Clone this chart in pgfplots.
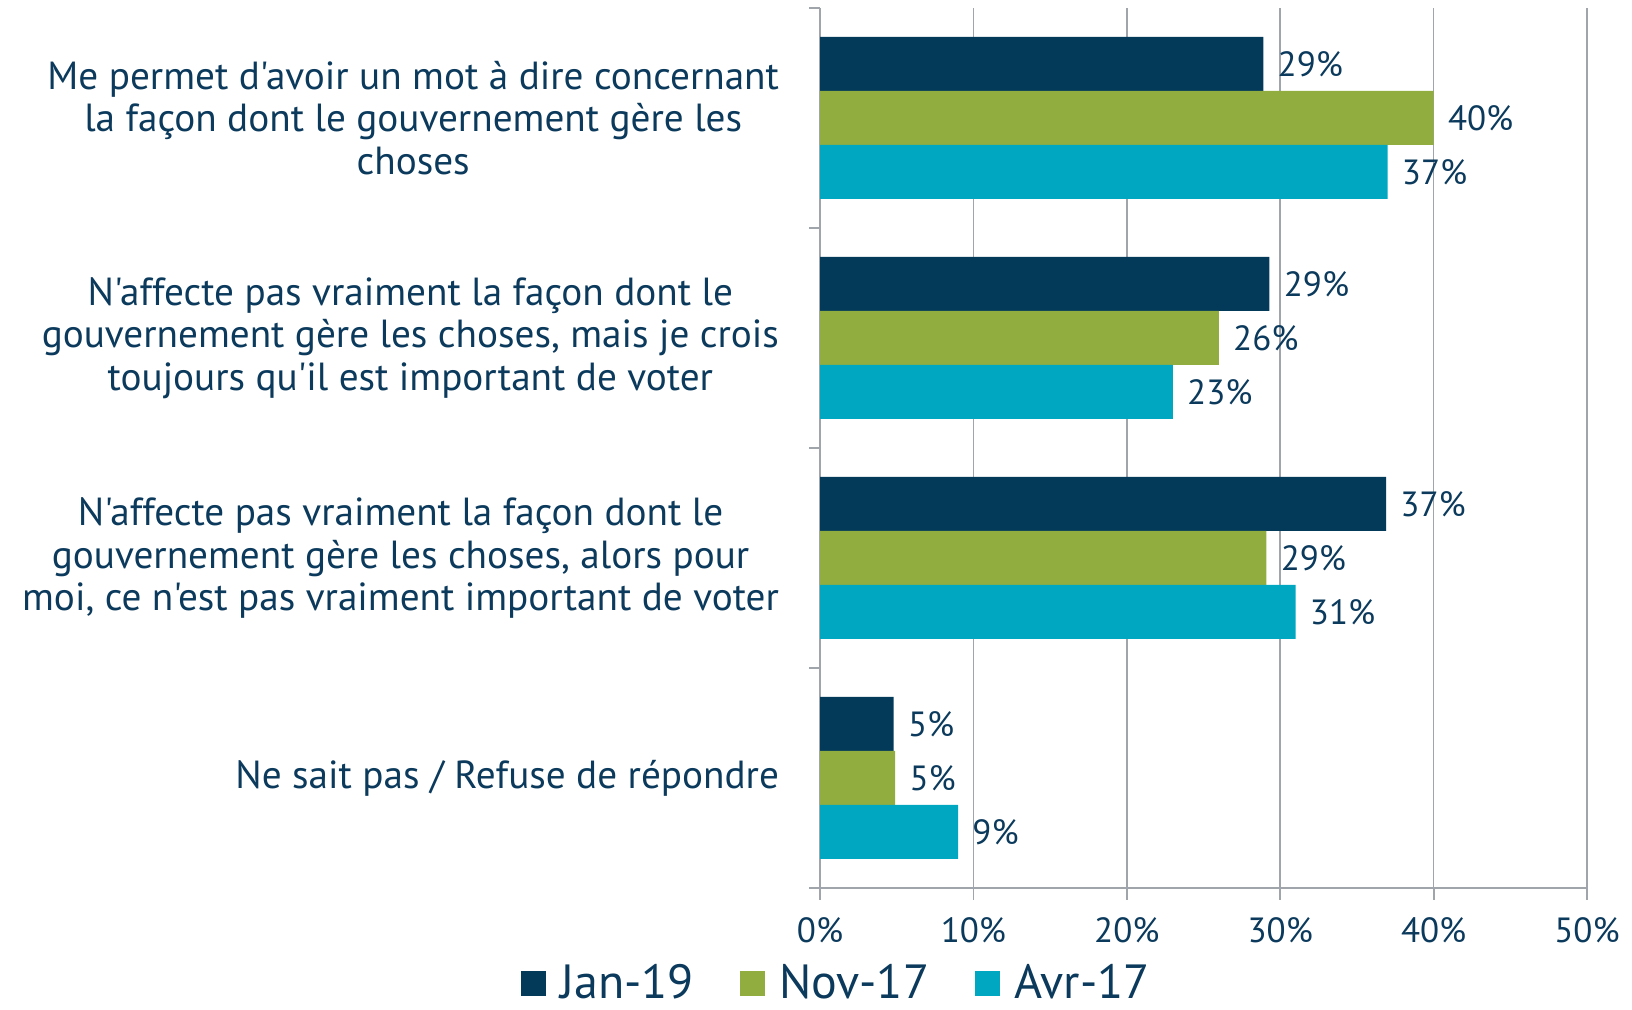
\documentclass[border=0pt]{standalone}
\usepackage{fontspec}
\setmainfont{PT Sans}[Ligatures=TeXOff]
\usepackage{pgfplots}
\usepackage{pgfplotstable}
\pgfplotsset{compat=1.18}
\definecolor{janc}{HTML}{033A5A}
\definecolor{novc}{HTML}{91AD3F}
\definecolor{avrc}{HTML}{00A7C1}
\definecolor{textc}{HTML}{0B3A5C}
\definecolor{gridc}{HTML}{A0A4AB}

% categories from bottom (0) to top (3)
\pgfplotstableread{
cat jan nov avr
3 28.9 40.0 37.0
2 29.3 26.0 23.0
1 36.9 29.1 31.0
0 4.8 4.9 9.0
}\survey

\begin{document}
\begin{tikzpicture}[x=1pt,y=1pt]
\useasboundingbox (0,0) rectangle (816,505);
\begin{axis}[
  at={(410pt,61pt)}, anchor=south west,
  width=383.5pt, height=440pt, scale only axis,
  xbar, bar width=27pt,
  xmin=0, xmax=50, ymin=-0.5, ymax=3.5,
  xtick={0,10,...,50},
  xticklabel={\pgfmathprintnumber{\tick}\%},
  ytick={0,1,2,3},
  yticklabels={
    {Ne sait pas / Refuse de répondre},
    {N'affecte pas vraiment la façon dont le\\gouvernement gère les choses, alors pour\\moi, ce n'est pas vraiment important de voter},
    {N'affecte pas vraiment la façon dont le\\gouvernement gère les choses, mais je crois\\toujours qu'il est important de voter},
    {Me permet d'avoir un mot à dire concernant\\la façon dont le gouvernement gère les\\choses}},
  minor ytick={-0.5,0.5,1.5,2.5,3.5},
  major y tick style={draw=none},
  minor tick length=5.5pt, major tick length=6pt,
  tick align=outside,
  axis x line*=bottom, axis y line*=left,
  axis line style={gridc, line width=0.9pt, -},
  tick style={gridc, line width=0.9pt},
  xmajorgrids, major grid style={gridc, line width=0.75pt},
  ytick pos=left, xtick pos=bottom,
  /pgf/number format/assume math mode=true,
  xticklabel style={font=\fontsize{17.5}{21}\selectfont, text=textc, yshift=-5pt},
  yticklabel style={font=\fontsize{19.6}{21.3}\selectfont, text=textc, align=center, xshift=-11pt},
  point meta=x,
  nodes near coords={\pgfmathprintnumber[fixed,precision=0]{\pgfplotspointmeta}\%},
  nodes near coords style={font=\fontsize{17.5}{21}\selectfont, text=textc, anchor=west, inner sep=0pt, xshift=7pt},
  legend style={at={(0.023,-0.108)}, anchor=center, draw=none, fill=none,
    legend columns=3, font=\fontsize{24}{28}\selectfont, text=textc,
    /tikz/every odd column/.append style={column sep=5pt},
    /tikz/every even column/.append style={column sep=21pt}},
  legend image code/.code={\fill[#1] (0pt,-6.25pt) rectangle (12.5pt,6.25pt);},
  clip=false,
]
\addplot[fill=janc, draw=none, bar shift=27pt] table[x=jan, y=cat] {\survey};
\addlegendentry{Jan-19}
\addplot[fill=novc, draw=none, bar shift=0pt] table[x=nov, y=cat] {\survey};
\addlegendentry{Nov-17}
\addplot[fill=avrc, draw=none, bar shift=-27pt] table[x=avr, y=cat] {\survey};
\addlegendentry{Avr-17}
\end{axis}
\end{tikzpicture}
\end{document}
